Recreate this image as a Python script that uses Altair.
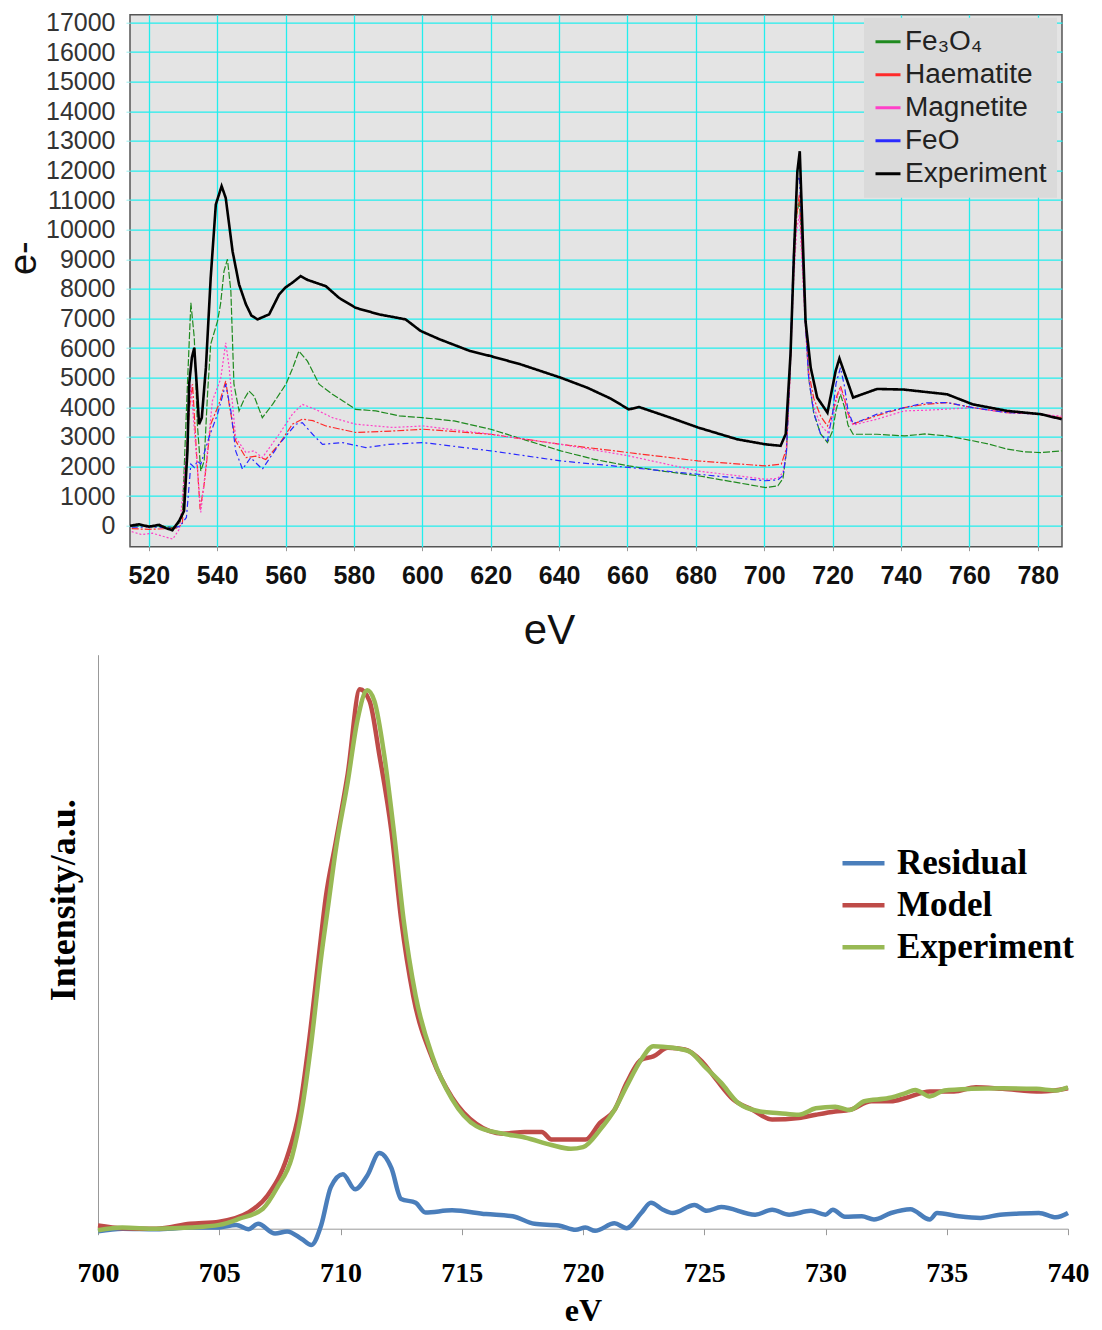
import altair as alt
import pandas as pd

# ---------------- top panel data (eV, electrons) ----------------
series_top = ["Fe\u2083O\u2084", "Haematite", "Magnetite", "FeO", "Experiment"]
colors_top = ["#1f8a1f", "#ff2a2a", "#ff40c8", "#2a2aff", "#000000"]

fe3o4_ev = [515, 518, 521, 524, 527, 529, 529.8, 531.3, 532.3, 533.3, 534.2, 535.2, 536.2, 537.2, 538.1,
            540.1, 541, 542, 543, 544, 544.9, 546.4, 548, 549.3, 550.8, 553.2, 556.2, 560.1, 562, 563.9,
            566.4, 569.8, 573.7, 577, 580.5, 586.4, 593.2, 600, 609.3, 620, 630, 640.5, 650, 660.4, 670,
            680.6, 690, 700.4, 704, 705.5, 706.5, 707.5, 708.5, 709.5, 710.3, 711, 712, 713, 714.5, 716.5,
            718.5, 720, 721, 722.3, 723.5, 724.5, 726, 733, 741, 747, 753.5, 761, 766, 771, 776, 781, 787]
fe3o4_val = [-30, 0, -40, -20, -60, 100, 280, 4780, 7530, 6350, 3430, 1850, 2190, 4500, 6130,
             6910, 7500, 8600, 9000, 7930, 4780, 3880, 4300, 4550, 4380, 3650, 4100, 4780, 5300, 5900,
             5560, 4780, 4440, 4200, 3930, 3880, 3710, 3650, 3540, 3260, 2900, 2530, 2250, 2020, 1850,
             1690, 1500, 1290, 1350, 1600, 2500, 5000, 8500, 10500, 11000, 9500, 7000, 5000, 3800, 3100,
             2810, 3200, 3900, 4440, 4000, 3400, 3090, 3090, 3035, 3100, 3035, 2870, 2750, 2590, 2500, 2470, 2530]

haem_ev = [515, 520, 525, 528, 529.8, 531, 531.8, 532.8, 533.8, 535, 536.2, 538.1, 540.5, 542.5, 543.5,
           545.4, 548.4, 551.3, 554.2, 558.1, 562, 564.9, 568, 571.8, 580.5, 591.3, 600.3, 620, 640.5,
           660.4, 680.6, 700.4, 705, 706.5, 707.5, 708.5, 709.5, 710.3, 711, 712, 713, 714.5, 716.5,
           718.5, 720, 721, 722.3, 723.5, 724.5, 726, 733, 741, 747, 753.5, 761, 771, 781, 787]
haem_val = [-100, -120, -100, -80, 50, 2190, 3880, 4780, 2750, 560, 1400, 3430, 4100, 4890, 4100,
            2870, 2300, 2350, 2240, 2750, 3430, 3600, 3550, 3370, 3150, 3200, 3260, 3090, 2750,
            2470, 2190, 2020, 2080, 2600, 5000, 8500, 10500, 11200, 9500, 7000, 5200, 4300, 3700,
            3370, 3800, 4300, 4720, 4300, 3800, 3440, 3720, 3990, 4100, 4160, 3990, 3820, 3770, 3650]

magn_ev = [515, 518, 521, 524, 527, 529, 531, 532.3, 533.8, 535.2, 536.7, 538.6, 541, 542.5, 543.5,
           545.4, 548.4, 550.8, 553.2, 558.1, 562, 564.9, 568.8, 573.7, 580.5, 591.3, 600.3, 620, 640.5,
           660.4, 680.6, 700.4, 704, 705.5, 706.5, 707.5, 708.5, 709.5, 710.3, 711, 712, 713, 714.5,
           716.5, 718.5, 720, 721, 722.3, 723.5, 724.5, 726, 733, 741, 747, 753.5, 761, 771, 781, 787]
magn_val = [-200, -300, -250, -350, -450, -100, 2530, 4780, 2530, 450, 2000, 4220, 4950, 6180, 5340,
            2980, 2470, 2530, 2300, 3090, 3770, 4100, 3930, 3650, 3430, 3320, 3370, 3090, 2750,
            2360, 1850, 1570, 1600, 1800, 2500, 4800, 8000, 10000, 10500, 9000, 6800, 5000, 4000,
            3400, 3150, 3600, 4200, 4650, 4200, 3700, 3400, 3600, 3880, 3900, 3940, 3990, 3820, 3770, 3700]

feo_ev = [515, 520, 525, 529, 531, 532.3, 533.3, 534.2, 535.2, 537.6, 540.1, 542.5, 544, 545.4, 547.4,
          549.8, 553.2, 558.1, 563, 564.9, 567.9, 570.8, 576.6, 583.5, 590.3, 600.3, 620, 640.5, 660.4,
          680.6, 700.4, 704, 705.5, 706.5, 707.5, 708.5, 709.5, 710.3, 711, 712, 713, 714.5, 716.5,
          718.5, 720, 721, 722.3, 723.5, 724.5, 726, 733, 741, 747, 753.5, 761, 771, 781, 787]
feo_val = [-50, -40, -60, -30, 280, 2080, 1970, 2190, 2080, 2980, 3770, 4780, 3880, 2530, 1910,
           2300, 1910, 2750, 3430, 3480, 3090, 2750, 2810, 2640, 2750, 2810, 2530, 2190, 1970,
           1740, 1520, 1550, 1700, 2500, 5200, 9000, 11500, 11800, 10000, 7000, 5000, 3800, 3100,
           2870, 3800, 4800, 5340, 4700, 3900, 3440, 3770, 3990, 4150, 4160, 3990, 3820, 3770, 3600]

exp_ev = [514.5, 517.2, 520, 523, 525, 526.9, 528.9, 530.3, 531.3, 531.8, 532.6, 533.3, 534, 534.7,
          535.5, 536.7, 538.1, 539.6, 541.3, 542.5, 544.5, 546.4, 548.4, 550, 551.8, 555.2, 558.1, 560,
          562, 564.4, 566.5, 568.8, 571.8, 575.6, 580.5, 587.3, 595.1, 599.5, 605, 614, 620, 628.8,
          640.5, 648.3, 655, 660.4, 663.4, 672.6, 680.6, 692.1, 700.4, 704.8, 706.3, 707.7, 708.7,
          709.7, 710.4, 711.1, 712.1, 713.6, 715.5, 718.5, 720.9, 722, 724.3, 726, 733, 740.8, 753.5,
          761, 771, 780.8, 787]
exp_val = [0, 50, -30, 30, -80, -150, 170, 500, 2530, 4780, 5680, 6010, 4780, 3430,
           3650, 5340, 8370, 10850, 11470, 11070, 9270, 8150, 7480, 7100, 6970, 7140, 7810, 8050,
           8210, 8430, 8300, 8210, 8090, 7700, 7360, 7140, 6970, 6580, 6300, 5900, 5730, 5450,
           5000, 4660, 4300, 3930, 4010, 3650, 3320, 2920, 2750, 2700, 3100, 5800, 9170,
           11970, 12650, 10290, 6900, 5340, 4330, 3820, 5230, 5650, 4890, 4330, 4620, 4600, 4440,
           4100, 3880, 3770, 3600]

top_x_ticks = [520, 540, 560, 580, 600, 620, 640, 660, 680, 700, 720, 740, 760, 780]
top_y_ticks = [0, 1000, 2000, 3000, 4000, 5000, 6000, 7000, 8000, 9000, 10000, 11000, 12000,
               13000, 14000, 15000, 16000, 17000]

# ---------------- bottom panel data (eV, a.u.) ----------------
series_bot = ["Residual", "Model", "Experiment"]
colors_bot = ["#4a7ebb", "#be4b48", "#98b954"]

bexp_ev = [700, 701, 702.4, 703.8, 705, 705.8, 706.8, 707.4, 708, 708.4, 708.8, 709.2, 709.5, 709.8,
           710.3, 710.7, 711.1, 711.4, 711.8, 712.2, 712.6, 713.1, 713.8, 714.6, 715.6, 716.7, 717.6,
           718.7, 719.5, 720, 720.7, 721.3, 721.8, 722.4, 722.9, 723.7, 724.4, 725, 725.7, 726.4,
           727.3, 728.1, 728.9, 729.6, 730.4, 731, 731.6, 732.6, 733.3, 733.7, 734.3, 734.9, 736,
           737.3, 738.7, 739.5, 740]
bexp_val = [-0.3, 0.2, 0, 0.2, 0.7, 1.8, 3.7, 7.7, 13.3, 21.8, 34.6, 50.2, 60.1, 70,
            82.8, 94.2, 99.7, 97.7, 87.8, 73.6, 57.3, 43.1, 31.8, 24, 19, 17.6, 16.9,
            15.5, 14.8, 15.1, 18.3, 22, 26.4, 31.3, 33.8, 33.5, 32.8, 30.1, 27, 23.3,
            21.7, 21.4, 21.1, 22.3, 22.6, 22, 23.6, 24.2, 25.1, 25.7, 24.5, 25.6, 25.9,
            26, 25.9, 25.6, 26.2]

model_ev = [700, 701, 702.4, 703.8, 705, 706.2, 707, 707.8, 708.3, 708.7, 709.1, 709.4, 709.8, 710.3,
            710.8, 711.2, 711.6, 712.1, 712.5, 713, 713.8, 714.6, 715.6, 716.7, 717.6, 718.3, 718.7,
            719.5, 720.1, 720.7, 721.3, 721.8, 722.4, 722.9, 723.5, 724.2, 724.9, 725.5, 726.2, 727,
            727.8, 728.9, 729.6, 730.4, 731, 731.9, 732.7, 733.3, 734.3, 735.3, 736.2, 737.3, 738.9, 740]
model_val = [0.6, 0.1, 0, 0.9, 1.3, 3, 6.2, 13.3, 21.8, 34.6, 50.2, 61.6, 71.5, 84.3,
             99.9, 97.7, 87.8, 73.6, 57.3, 43.1, 31.4, 24.3, 19.4, 17.6, 17.9, 17.9, 16.5,
             16.5, 16.5, 19.6, 22, 27, 31.3, 31.9, 33.5, 33.2, 31, 27.6, 23.9, 22,
             20.2, 20.5, 21.1, 21.7, 22, 23.6, 23.6, 24.2, 25.4, 25.4, 26.2, 25.9, 25.4, 26]

resid_ev = [700, 701, 702.4, 703.8, 704.9, 705.7, 706.2, 706.6, 707.3, 707.8, 708.4, 708.8, 709.2, 709.6,
            710.1, 710.6, 711.1, 711.6, 712.1, 712.5, 713.1, 713.5, 714.6, 716, 717.1, 718, 719, 719.7,
            720.1, 720.5, 721.3, 721.8, 722.4, 722.8, 723.3, 723.7, 724.6, 725.1, 725.7, 727.1, 727.8,
            728.5, 729.4, 730, 730.3, 730.8, 731.5, 732, 732.7, 733.5, 734.3, 734.6, 735.5, 736.4,
            737.2, 738, 738.8, 739.5, 740]
resid_val = [-0.5, 0, -0.1, 0.2, 0.2, 0.7, -0.1, 0.9, -0.9, -0.5, -1.9, -3.0, 0.6, 7.7,
             10.1, 7.3, 9.8, 14.0, 11.2, 5.5, 4.8, 3, 3.4, 2.7, 2.3, 0.9, 0.6, -0.2,
             0.2, -0.4, 1, 0.1, 2.9, 4.8, 3.5, 2.9, 4.4, 3.3, 4, 2.6, 3.5,
             2.6, 3.3, 2.6, 3.5, 2.2, 2.3, 1.7, 2.9, 3.6, 1.7, 2.9, 2.3, 2.0,
             2.6, 2.8, 2.9, 2.1, 2.9]

bot_x_ticks = [700, 705, 710, 715, 720, 725, 730, 735, 740]

# ---------------- build tables ----------------
def frame(name, xs, ys):
    return pd.DataFrame({"series": name, "ev": xs, "val": ys})

top_df = pd.concat([
    frame(series_top[0], fe3o4_ev, fe3o4_val),
    frame(series_top[1], haem_ev, haem_val),
    frame(series_top[2], magn_ev, magn_val),
    frame(series_top[3], feo_ev, feo_val),
    frame(series_top[4], exp_ev, exp_val),
], ignore_index=True)
top_df["dash"] = top_df["series"]

bot_df = pd.concat([
    frame(series_bot[0], resid_ev, resid_val),
    frame(series_bot[1], model_ev, model_val),
    frame(series_bot[2], bexp_ev, bexp_val),
], ignore_index=True)

SANS = "Liberation Sans"
SERIF = "Liberation Serif"
GRID = "#22eeee"

# dash styles listed in reverse order so that this scale is not merged into the colour legend
dash_domain = list(reversed(series_top))
dash_range = [[1, 0], [6, 3, 2, 3], [2, 2], [7, 2, 2, 2], [7, 2]]

top = alt.Chart(top_df).mark_line(clip=True).encode(
    x=alt.X("ev:Q",
            scale=alt.Scale(domain=[514.5, 787.1], nice=False, zero=False),
            axis=alt.Axis(values=top_x_ticks, format="d", title="eV",
                          labelFont=SANS, labelFontSize=25, labelFontWeight="bold", labelColor="#111",
                          labelPadding=13, tickSize=4, tickColor="#999", domain=False,
                          grid=True, gridColor=GRID, gridWidth=1.3, labelFlush=False,
                          titleFont=SANS, titleFontSize=42, titleFontWeight="normal", titleColor="#111",
                          titlePadding=22, titleX=419)),
    y=alt.Y("val:Q",
            scale=alt.Scale(domain=[-707, 17260], nice=False, zero=False),
            axis=alt.Axis(values=top_y_ticks, format="d", title="e-",
                          labelFont=SANS, labelFontSize=25, labelColor="#333",
                          labelPadding=11, tickSize=4, tickColor="#9ee", domain=False,
                          grid=True, gridColor=GRID, gridWidth=1.3, labelFlush=False,
                          titleFont=SANS, titleFontSize=38, titleFontWeight="normal", titleColor="#111",
                          titlePadding=2, titleY=243)),
    color=alt.Color("series:N",
                    scale=alt.Scale(domain=series_top, range=colors_top),
                    sort=series_top,
                    legend=alt.Legend(title=None, orient="none", legendX=734, legendY=3,
                                      fillColor="#dadada", padding=10,
                                      symbolType="stroke", symbolSize=625, symbolStrokeWidth=3,
                                      symbolDash=[1, 0],
                                      labelFont=SANS, labelFontSize=28, labelColor="#222",
                                      labelOffset=3, rowPadding=5, labelLimit=300)),
    strokeDash=alt.StrokeDash("dash:N",
                              scale=alt.Scale(domain=dash_domain, range=dash_range),
                              legend=None),
    strokeWidth=alt.condition("datum.series === 'Experiment'", alt.value(2.6), alt.value(1.2)),
).properties(
    width=932, height=532,
    view=alt.ViewBackground(fill="#e4e4e4", stroke="#555", strokeWidth=1.5),
)

bottom = alt.Chart(bot_df).mark_line(interpolate="monotone", strokeWidth=4.5, clip=False).encode(
    x=alt.X("ev:Q",
            scale=alt.Scale(domain=[700, 740], range=[-32, 938], nice=False, zero=False),
            axis=alt.Axis(values=bot_x_ticks, format="d", title="eV", labelFlush=False,
                          labelFont=SERIF, labelFontSize=28, labelFontWeight="bold", labelColor="#000",
                          labelPadding=25, tickSize=6, tickColor="#999", domainColor="#999",
                          grid=False,
                          titleFont=SERIF, titleFontSize=32, titleFontWeight="bold", titleColor="#000",
                          titlePadding=8)),
    y=alt.Y("val:Q",
            scale=alt.Scale(domain=[0, 106.3], nice=False, zero=False),
            axis=alt.Axis(title="Intensity/a.u.", labels=False, ticks=False, grid=False,
                          domainColor="#999", offset=32,
                          titleFont=SERIF, titleFontSize=36, titleFontWeight="bold", titleColor="#000",
                          titlePadding=16, titleY=245)),
    color=alt.Color("series:N",
                    scale=alt.Scale(domain=series_bot, range=colors_bot),
                    sort=series_bot,
                    legend=alt.Legend(title=None, orient="none", legendX=710, legendY=185,
                                      padding=0, symbolType="stroke", symbolSize=1764,
                                      symbolStrokeWidth=4.5,
                                      labelFont=SERIF, labelFontSize=35, labelFontWeight="bold",
                                      labelColor="#000", labelOffset=10, rowPadding=0,
                                      labelLimit=400)),
).properties(width=938, height=574)

chart = alt.vconcat(top, bottom, spacing=2).resolve_scale(
    x="independent", y="independent", color="independent", strokeDash="independent",
).resolve_legend(color="independent").properties(
    padding={"left": 4, "top": 8.7, "right": 0, "bottom": 0},
    background="white",
).configure_view(strokeWidth=0)

chart.save("out.html", embed_options={"renderer": "svg", "actions": False})
